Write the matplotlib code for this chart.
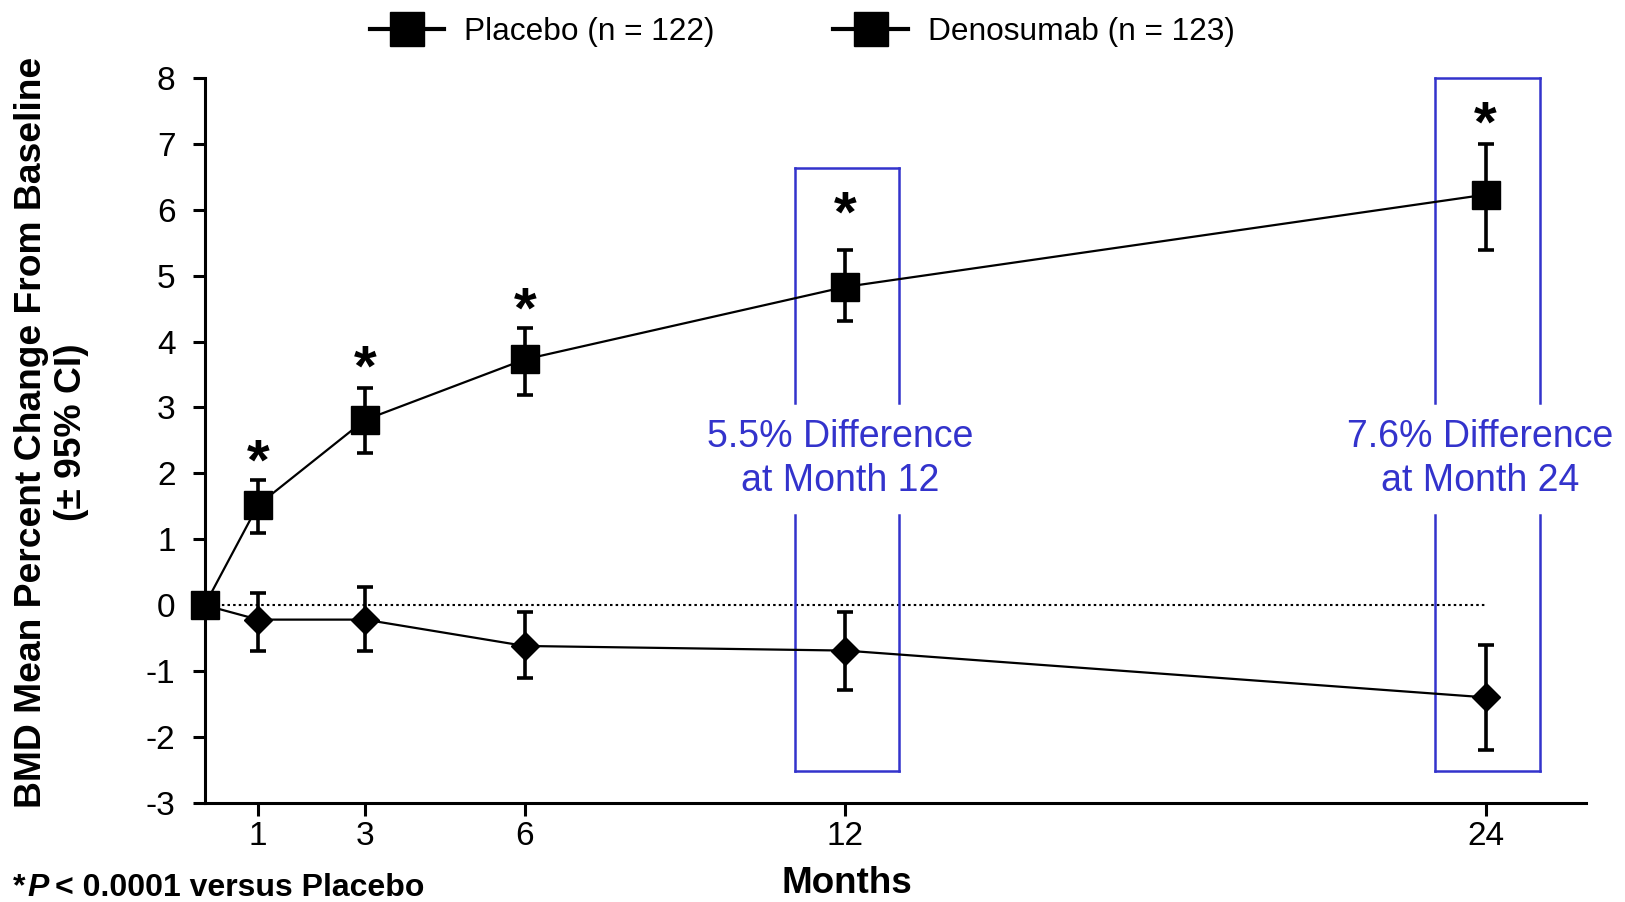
import matplotlib
matplotlib.use("Agg")
import matplotlib.pyplot as plt
from matplotlib.lines import Line2D

plt.rcParams['font.family'] = ['Liberation Sans', 'DejaVu Sans']
plt.rcParams['axes.unicode_minus'] = False

# ---- data ----
months = [0, 1, 3, 6, 12, 24]
deno_mean = [0.0, 1.52, 2.81, 3.73, 4.83, 6.23]
deno_lo = [0.0, 1.1, 2.31, 3.19, 4.31, 5.39]
deno_hi = [0.0, 1.9, 3.3, 4.2, 5.39, 7.0]
plac_mean = [0.0, -0.22, -0.22, -0.62, -0.69, -1.4]
plac_lo = [0.0, -0.69, -0.69, -1.1, -1.29, -2.2]
plac_hi = [0.0, 0.19, 0.28, -0.1, -0.1, -0.6]
star_months = [1, 3, 6, 12, 24]
star_gaps = [0.41, 0.44, 0.42, 0.69, 0.44]
xtick_vals = [1, 3, 6, 12, 24]
ytick_vals = [-3, -2, -1, 0, 1, 2, 3, 4, 5, 6, 7, 8]
legend_labels = ['Placebo (n = 122)', 'Denosumab (n = 123)']
box_months = [12, 24]
box_tops = [6.63, 8.0]
box_texts = ['5.5% Difference\nat Month 12', '7.6% Difference\nat Month 24']

BLUE = '#3333CC'

fig = plt.figure(figsize=(16.25, 9.02), dpi=100)
ax = fig.add_axes([0.126, 0.110, 0.850, 0.8035])

# zero dotted line
ax.plot([0, 24], [0, 0], color='black', lw=1.5, ls=(0, (1.2, 1.5)), zorder=1)

def err(mean, lo, hi):
    return [[m - l for m, l in zip(mean, lo)], [h - m for m, h in zip(mean, hi)]]

ax.errorbar(months, plac_mean, yerr=err(plac_mean, plac_lo, plac_hi), color='black',
            lw=1.6, marker='D', markersize=14.5, elinewidth=2.6, capsize=5.5,
            capthick=2.6, zorder=3, clip_on=False)
ax.errorbar(months, deno_mean, yerr=err(deno_mean, deno_lo, deno_hi), color='black',
            lw=1.6, marker='s', markersize=20, elinewidth=2.6, capsize=5.5,
            capthick=2.6, zorder=4, clip_on=False)

# asterisks
for m, g in zip(star_months, star_gaps):
    i = months.index(m)
    ax.text(m, deno_hi[i] + g - 0.59, '*', ha='center', va='bottom', fontsize=42,
            fontweight='bold', color='black')

# blue boxes with gap for text
gap_lo, gap_hi = 1.37, 3.07
half_w = 0.98
box_bottom = -2.52
for m, top, txt in zip(box_months, box_tops, box_texts):
    x0, x1 = m - half_w + 0.03, m + half_w + 0.03
    kw = dict(color=BLUE, lw=1.8, clip_on=False, zorder=2)
    ax.plot([x0, x1], [top, top], **kw)
    ax.plot([x0, x1], [box_bottom, box_bottom], **kw)
    for x in (x0, x1):
        ax.plot([x, x], [box_bottom, gap_lo], **kw)
        ax.plot([x, x], [gap_hi, top], **kw)
    ax.text(m - 0.1, (gap_lo + gap_hi) / 2, txt, ha='center', va='center',
            fontsize=27, color=BLUE, linespacing=1.27)

ax.set_xlim(0, 25.88)
ax.set_ylim(-3, 8)
ax.set_xticks(xtick_vals)
ax.set_xticklabels([str(v) for v in xtick_vals])
ax.set_yticks(ytick_vals)
ax.set_yticklabels([str(v) for v in ytick_vals])
for s in ('top', 'right'):
    ax.spines[s].set_visible(False)
for s in ('left', 'bottom'):
    ax.spines[s].set_linewidth(2.2)
ax.tick_params(axis='both', direction='out', length=9, width=2.2, labelsize=24)
ax.tick_params(axis='y', pad=12)
ax.tick_params(axis='x', pad=4)

fig.text(0.0317, 0.521, 'BMD Mean Percent Change From Baseline\n(± 95% CI)', fontsize=26.8,
         fontweight='bold', linespacing=1.2, rotation=90, ha='center', va='center',
         multialignment='center')
fig.text(0.521, 0.021, 'Months', fontsize=26.5, fontweight='bold', ha='center', va='center')

# footnote with italic P
fig.canvas.draw()
r = fig.canvas.get_renderer()
base_y = 0.007
t1 = fig.text(0.008, base_y, '*', fontsize=23, fontweight='bold', va='baseline')
x = t1.get_window_extent(r).x1 / fig.bbox.width + 0.001
t2 = fig.text(x, base_y, 'P', fontsize=23, fontweight='bold', fontstyle='italic', va='baseline')
x = t2.get_window_extent(r).x1 / fig.bbox.width + 0.004
fig.text(x, base_y, '< 0.0001 versus Placebo', fontsize=23, fontweight='bold', va='baseline')

handles = [Line2D([], [], color='black', lw=3, marker='s', markersize=25),
           Line2D([], [], color='black', lw=3, marker='s', markersize=25)]
fig.legend(handles, legend_labels, loc='center', bbox_to_anchor=(0.4936, 0.965), ncol=2,
           frameon=False, handlelength=2.36,
           handletextpad=0.62, columnspacing=3.77,
           prop={'size': 22.75})

fig.savefig('out.png', dpi=100)
